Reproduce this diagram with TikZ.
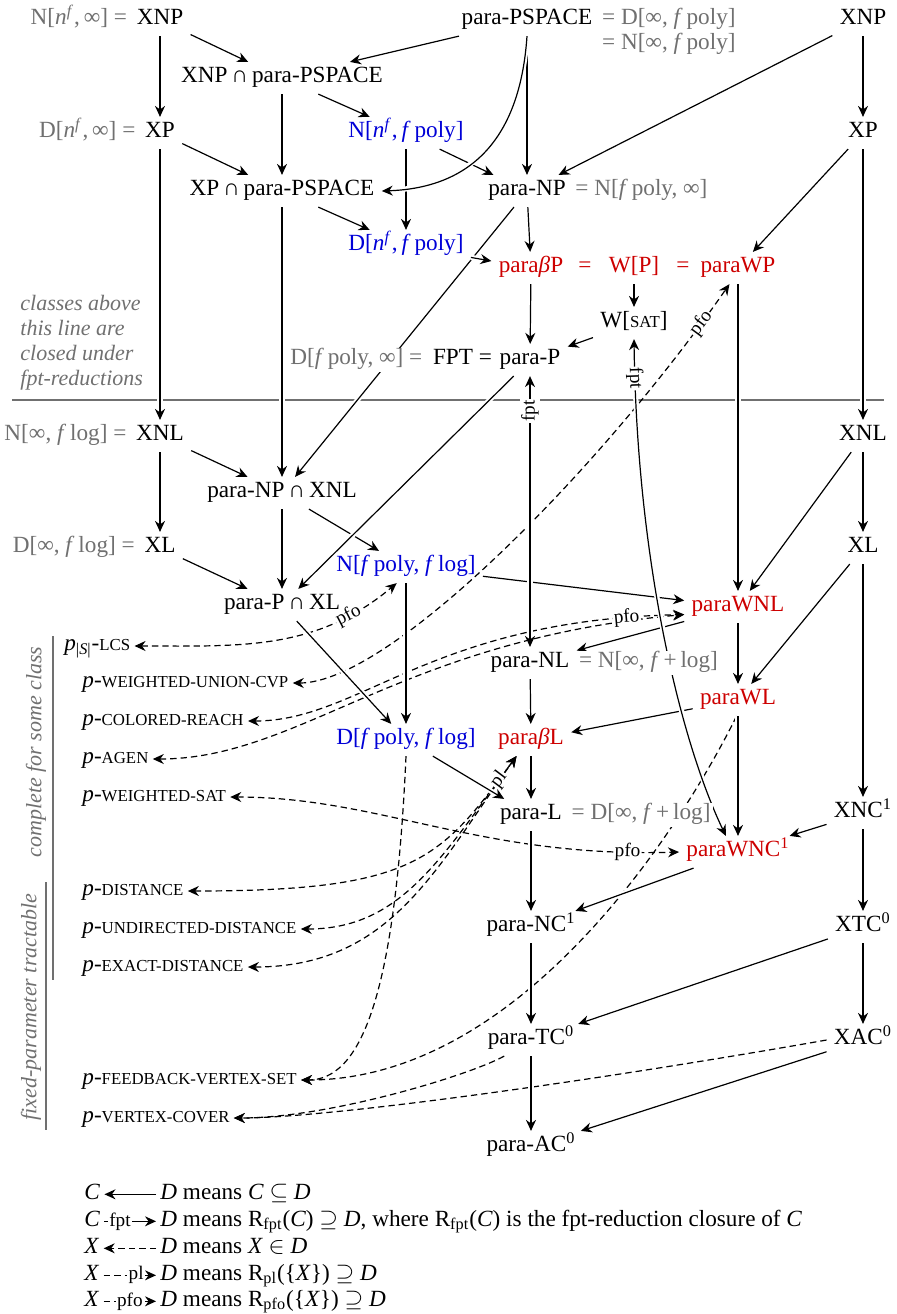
\documentclass[tikz,border=0pt]{standalone}
\usepackage{fontspec}
\setmainfont{Liberation Serif}
\usetikzlibrary{arrows.meta}
\definecolor{cred}{RGB}{205,0,0}
\definecolor{cblue}{RGB}{0,0,215}
\definecolor{cgray}{RGB}{112,112,112}
\pgfdeclarelayer{edgelayer}
\pgfsetlayers{edgelayer,main}
\newcommand{\itf}{\textit{f}}
\newcommand{\nfexp}{\textit{n}\textsuperscript{\textit{f}}}
\newcommand{\infsym}{∞}
\newcommand{\capsym}{∩}
\newcommand{\sct}[1]{{\fontsize{8.4pt}{10pt}\selectfont #1}}
\newcommand{\pn}[1]{\textit{p}-\sct{#1}}
\tikzset{
  >={Stealth[length=5.5pt,width=5pt,inset=1.8pt]},
  cls/.style={inner xsep=3.5pt, inner ysep=3pt, text height=0.72em, text depth=0.25em},
  rc/.style={cls, text=cred},
  bc/.style={cls, text=cblue},
  glab/.style={text=cgray, inner xsep=1pt, inner ysep=1pt, text height=0.72em, text depth=0.25em, fill=white},
  prob/.style={anchor=west, inner xsep=2pt, inner ysep=2pt, text height=0.72em, text depth=0.25em},
  ar/.style={->, line width=0.6pt, preaction={draw=white, line width=2.6pt, -}},
  dsh/.style={->, line width=0.6pt, dash pattern=on 3.2pt off 2pt},
  dsh2/.style={<->, line width=0.6pt, dash pattern=on 3.2pt off 2pt},
  elab/.style={font=\fontsize{9.6pt}{11pt}\selectfont, fill=white, inner sep=0.6pt, sloped},
  notetxt/.style={text=cgray, font=\fontsize{11pt}{12.5pt}\selectfont\itshape},
  legn/.style={inner xsep=2pt, inner ysep=1pt, text height=0.72em, text depth=0.25em, anchor=base west},
}
\begin{document}
\begin{tikzpicture}[x=0.5pt,y=0.5pt,font=\fontsize{11.6pt}{14pt}\selectfont]
\useasboundingbox (0,0) rectangle (896,-1314);
% ---------------- class nodes
\node[cls] (xnpl) at (160,-20) {XNP};
\node[glab, anchor=base east] (xnplL) at (xnpl.base west) {N[\nfexp,\,\infsym] =};
\node[cls] (pps) at (527,-20) {para-PSPACE};
\node[glab, anchor=base west] (ppsL1) at (pps.base east) {= D[\infsym, \itf\,poly]};
\node[glab, anchor=base west] (ppsL2) at ([yshift=-12.5pt]ppsL1.base west) {= N[\infsym, \itf\,poly]};
\node[cls] (xnpr) at (863,-20) {XNP};
\node[cls] (xnpps) at (282,-78) {XNP\,\capsym\,para-PSPACE};
\node[cls] (xpl) at (160,-133) {XP};
\node[glab, anchor=base east] (xplL) at (xpl.base west) {D[\nfexp,\,\infsym] =};
\node[bc] (nnfp) at (406,-133) {N[\nfexp,\,\itf\,poly]};
\node[cls] (xpr) at (863,-133) {XP};
\node[cls] (xpps) at (282,-191) {XP\,\capsym\,para-PSPACE};
\node[cls] (pnp) at (527,-191) {para-NP};
\node[glab, anchor=base west] (pnpL) at (pnp.base east) {= N[\itf\,poly, \infsym]};
\node[bc] (dnfp) at (406,-246) {D[\nfexp,\,\itf\,poly]};
\node[rc] (pbp) at (531,-268) {para\textit{β}P};
\node[rc] (eq1) at (585,-268) {=};
\node[rc] (wp) at (634,-268) {W[P]};
\node[rc] (eq2) at (683,-268) {=};
\node[rc] (pwp) at (738,-268) {paraWP};
\node[cls] (wsat) at (634,-323) {W[\sct{SAT}]};
\node[cls] (pp) at (530,-360) {para-P};
\node[cls, anchor=base east, inner xsep=0pt] (fptn) at (pp.base west) {FPT =};
\node[glab, anchor=base east] (dfpL) at ([xshift=-4pt]fptn.base west) {D[\itf\,poly, \infsym] =};
\node[notetxt, anchor=north west, align=left, inner sep=0pt] (note) at (20,-295) {classes above\\this line are\\closed under\\fpt-reductions};
\node[cls] (xnll) at (160,-436) {XNL};
\node[glab, anchor=base east] (xnllL) at (xnll.base west) {N[\infsym, \itf\,log] =};
\node[cls] (xnlr) at (863,-436) {XNL};
\node[cls] (pnpxnl) at (282,-493) {para-NP\,\capsym\,XNL};
\node[cls] (xll) at (160,-548) {XL};
\node[glab, anchor=base east] (xllL) at (xll.base west) {D[\infsym, \itf\,log] =};
\node[cls] (xlr) at (863,-548) {XL};
\node[bc] (nfpfl) at (406,-567) {N[\itf\,poly, \itf\,log]};
\node[cls] (ppxl) at (282,-605) {para-P\,\capsym\,XL};
\node[rc] (pwnl) at (738,-607) {paraWNL};
\node[cls] (pnl) at (530,-663) {para-NL};
\node[glab, anchor=base west] (pnlL) at (pnl.base east) {= N[\infsym, \itf\,+\,log]};
\node[rc] (pwl) at (738,-700) {paraWL};
\node[rc] (pbl) at (531,-740) {para\textit{β}L};
\node[bc] (dfpfl) at (406,-740) {D[\itf\,poly, \itf\,log]};
\node[cls] (pl) at (531,-815) {para-L};
\node[glab, anchor=base west] (plL) at (pl.base east) {= D[\infsym, \itf\,+\,log]};
\node[cls] (xnc1) at (863,-813) {XNC\textsuperscript{1}};
\node[rc] (pwnc1) at (738,-852) {paraWNC\textsuperscript{1}};
\node[cls] (pnc1) at (531,-927) {para-NC\textsuperscript{1}};
\node[cls] (xtc0) at (863,-927) {XTC\textsuperscript{0}};
\node[cls] (ptc0) at (531,-1040) {para-TC\textsuperscript{0}};
\node[cls] (xac0) at (863,-1040) {XAC\textsuperscript{0}};
\node[cls] (pac0) at (531,-1147) {para-AC\textsuperscript{0}};
% ---------------- problems
\node[prob] (lcs) at (60,-646) {\textit{p}\textsubscript{|\textit{S}|}-\sct{LCS}};
\node[prob] (wucvp) at (78,-683) {\pn{WEIGHTED-UNION-CVP}};
\node[prob] (cr) at (78,-721) {\pn{COLORED-REACH}};
\node[prob] (agen) at (78,-759) {\pn{AGEN}};
\node[prob] (wsatp) at (78,-797) {\pn{WEIGHTED-SAT}};
\node[prob] (dist) at (78,-891) {\pn{DISTANCE}};
\node[prob] (udist) at (78,-929) {\pn{UNDIRECTED-DISTANCE}};
\node[prob] (edist) at (78,-967) {\pn{EXACT-DISTANCE}};
\node[prob] (fvs) at (78,-1080) {\pn{FEEDBACK-VERTEX-SET}};
\node[prob] (vc) at (78,-1118) {\pn{VERTEX-COVER}};
% side notes
\coordinate (b1a) at (53,-636);
\coordinate (b1b) at (53,-980);
\coordinate (b2a) at (46,-882);
\coordinate (b2b) at (46,-1130);
\draw[cgray, line width=0.6pt] (b1a) -- (b1b);
\draw[cgray, line width=0.6pt] (b2a) -- (b2b);
\node[notetxt, rotate=90] (cfs) at (36,-752) {complete for some class};
\node[notetxt, rotate=90] (fpt) at (31,-1007) {fixed-parameter tractable};
% ---------------- legend
\node[legn] (lc1) at (80,-1199) {\textit{C}};
\node[legn] (ld1) at (156,-1199) {\textit{D} means \textit{C} $\subseteq$ \textit{D}};
\node[legn] (lc2) at (80,-1226) {\textit{C}};
\node[legn] (ld2) at (156,-1226) {\textit{D} means R\textsubscript{fpt}(\textit{C}) $\supseteq$ \textit{D}, where R\textsubscript{fpt}(\textit{C}) is the fpt-reduction closure of \textit{C}};
\node[legn] (lc3) at (80,-1253) {\textit{X}};
\node[legn] (ld3) at (156,-1253) {\textit{D} means \textit{X} $\in$ \textit{D}};
\node[legn] (lc4) at (80,-1280) {\textit{X}};
\node[legn] (ld4) at (156,-1280) {\textit{D} means R\textsubscript{pl}(\{\textit{X}\}) $\supseteq$ \textit{D}};
\node[legn] (lc5) at (80,-1306) {\textit{X}};
\node[legn] (ld5) at (156,-1306) {\textit{D} means R\textsubscript{pfo}(\{\textit{X}\}) $\supseteq$ \textit{D}};

\begin{pgfonlayer}{edgelayer}
\coordinate (gl1) at (12,-400);
\coordinate (gl2) at (884,-400);
\draw[cgray, line width=0.6pt] (gl1) -- (gl2);
% dashed membership / hardness
\draw[dsh2] (lcs.east) to[out=0,in=-140] node[elab,pos=0.8]{pfo} (nfpfl.240);
\draw[dsh2] (wucvp.east) .. controls (390,-683) and (600,-470) .. node[elab,pos=0.93]{pfo} (pwp.242);
\draw[dsh2] (agen.east) .. controls (300,-759) and (400,-640) .. (pwnl.188);
\draw[dsh2] (cr.east) .. controls (360,-721) and (430,-620) .. node[elab,pos=0.92]{pfo} (pwnl.188);
\draw[dsh2] (wsatp.east) .. controls (380,-797) and (480,-858) .. node[elab,pos=0.91]{pfo} (pwnc1.west);
\draw[dsh2] (udist.east) .. controls (400,-929) and (440,-860) .. (pbl.228);
\draw[dsh2] (edist.east) .. controls (390,-967) and (435,-870) .. (pbl.228);
\draw[dsh2] (dist.east) .. controls (415,-891) and (440,-860) .. node[elab,pos=0.92]{pl} (pbl.228);
\draw[dsh] (dfpfl.south) .. controls (395,-1000) and (360,-1080) .. (fvs.east);
\draw[dsh] (pwl.265) .. controls (680,-830) and (520,-1080) .. (fvs.east);
\draw[dsh] (xac0.west) .. controls (600,-1080) and (330,-1118) .. (vc.east);
\draw[dsh] (ptc0.211) .. controls (470,-1075) and (330,-1118) .. (vc.east);
% solid inclusions
\draw[ar] (xnpl) -- (xpl);
\draw[ar] (xnpl) -- (xnpps);
\draw[ar] (pps) -- (xnpps);
\draw[ar] (pps) -- (pnp);
\draw[ar] (xnpps) -- (xpps);
\draw[ar] (xnpps) -- (nnfp);
\draw[ar] (xpl) -- (xpps);
\draw[ar] (xpl) -- (xnll);
\draw[ar] (nnfp) -- (dnfp);
\draw[ar] (nnfp) -- (pnp);
\draw[ar] (xpps) -- (dnfp);
\draw[ar] (xpps) -- (pnpxnl);
\draw[ar] (xnpr) -- (pnp);
\draw[ar] (xnpr) -- (xpr);
\draw[ar] (xpr) -- (pwp);
\draw[ar] (xpr) -- (xnlr);
\draw[ar] (pnp) -- (pbp);
\draw[ar] (pnp) -- (pnpxnl);
\draw[ar] (dnfp) -- (pbp);
\draw[ar] (pps.south) .. controls (520,-140) and (470,-188) .. (xpps.east);
\draw[ar] (pbp) -- (pp);
\draw[ar] (wp) -- (wsat);
\draw[ar] (wsat) -- (pp);
\draw[ar] (pwp) -- (pwnl);
\draw[ar] (xnlr) -- (xlr);
\draw[ar] (xnlr) -- (pwnl);
\draw[ar] (xlr) -- (pwl);
\draw[ar] (xlr) -- (xnc1);
\draw[ar] (xnll) -- (xll);
\draw[ar] (xnll) -- (pnpxnl);
\draw[ar] (pnpxnl) -- (ppxl);
\draw[ar] (pnpxnl) -- (nfpfl);
\draw[ar] (xll) -- (ppxl);
\draw[ar] (pp) -- (ppxl);
\draw[ar] (nfpfl) -- (dfpfl);
\draw[ar] (nfpfl) -- (pwnl);
\draw[ar] (ppxl) -- (dfpfl);
\draw[ar] (pwnl) -- (pnl);
\draw[ar] (pwnl) -- (pwl);
\draw[ar, <->] (pnl) -- node[elab,pos=0.87]{fpt} (pp);
\draw[ar] (pnl) -- (pbl);
\draw[ar] (pwl) -- (pbl);
\draw[ar] (pwl) -- (pwnc1);
\draw[ar] (pbl) -- (pl);
\draw[ar] (dfpfl) -- (pl);
\draw[ar] (xnc1) -- (pwnc1);
\draw[ar] (xnc1) -- (xtc0);
\draw[ar] (pl) -- (pnc1);
\draw[ar] (pwnc1) -- (pnc1);
\draw[ar] (pnc1) -- (ptc0);
\draw[ar] (xtc0) -- (ptc0);
\draw[ar] (xtc0) -- (xac0);
\draw[ar] (ptc0) -- (pac0);
\draw[ar] (xac0) -- (pac0);
\draw[ar, <->] (pwnc1.127) .. controls (680,-740) and (637,-560) .. node[elab,pos=0.94]{fpt} (wsat.south);
% legend connectors
\draw[ar] (ld1) -- (lc1);
\draw[ar] (lc2) -- node[elab,pos=0.3]{fpt} (ld2);
\draw[dsh] (ld3) -- (lc3);
\draw[dsh] (lc4) -- node[elab,pos=0.62]{pl} (ld4);
\draw[dsh] (lc5) -- node[elab,pos=0.5]{pfo} (ld5);
\end{pgfonlayer}
\end{tikzpicture}
\end{document}
